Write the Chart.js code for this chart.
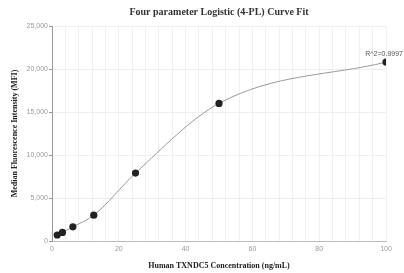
<!DOCTYPE html>
<html>
<head>
<meta charset="utf-8">
<script src="https://cdn.jsdelivr.net/npm/chart.js@4"></script>
<style>
  html, body { margin: 0; padding: 0; background: #fff; }
  #wrap { width: 404px; height: 273px; }
</style>
</head>
<body>
<div id="wrap"><canvas id="myChart" width="404" height="273"></canvas></div>
<script>
// concentration (ng/mL) and MFI
const concentrations = [1.5625, 3.125, 6.25, 12.5, 25, 50, 100];
const mfiValues = [700, 1000, 1650, 3000, 7900, 16000, 20800];
const yTicks = [0, 5000, 10000, 15000, 20000, 25000];
const xLabels = [0, 20, 40, 60, 80, 100];
const rSquaredText = 'R^2=0.9997';

const points = concentrations.map((c, i) => ({ x: c, y: mfiValues[i] }));

// пишем подпись R^2 рядом с последней точкой
const r2Label = {
    id: 'r2Label',
    afterDatasetsDraw(chart) {
        const last = points[points.length - 1];
        const px = chart.scales.x.getPixelForValue(last.x);
        const py = chart.scales.y.getPixelForValue(last.y);
        const ctx = chart.ctx;
        ctx.save();
        ctx.font = '7px "Liberation Sans", Arial, sans-serif';
        ctx.fillStyle = '#555';
        ctx.textAlign = 'right';
        ctx.textBaseline = 'bottom';
        ctx.fillText(rSquaredText, Math.min(px + 19, chart.width - 1), py - 5);
        ctx.restore();
    }
};

const serifBold = { family: '"Liberation Serif", "Times New Roman", serif', weight: 'bold' };

var ctx = document.getElementById('myChart').getContext('2d');
var myChart = new Chart(ctx, {
    type: 'scatter',
    data: {
        datasets: [
            {
                label: 'fit',
                data: points,
                order: 2,
                showLine: true,
                borderColor: '#9a9a9a',
                borderWidth: 1,
                pointRadius: 0,
                cubicInterpolationMode: 'monotone',
                fill: false
            },
            {
                label: 'standards',
                data: points,
                order: 1,
                showLine: false,
                pointRadius: 3.6,
                borderWidth: 0,
                pointBackgroundColor: '#222',
                pointBorderColor: '#222'
            }
        ]
    },
    options: {
        responsive: false,
        animation: false,
        layout: { padding: { left: 10, right: 18, top: 4, bottom: 0 } },
        plugins: {
            legend: { display: false },
            tooltip: { enabled: false },
            title: {
                display: true,
                text: 'Four parameter Logistic (4-PL) Curve Fit',
                fullSize: false,
                color: '#333',
                font: { ...serifBold, size: 10 },
                padding: { top: 2, bottom: 8 }
            }
        },
        scales: {
            x: {
                type: 'linear',
                min: 0,
                max: 100,
                ticks: {
                    stepSize: 4,
                    autoSkip: false,
                    maxRotation: 0,
                    color: '#999',
                    font: { family: '"Liberation Sans", Arial, sans-serif', size: 7 },
                    padding: 4,
                    callback: (v) => xLabels.includes(v) ? String(v) : ''
                },
                grid: { color: '#f0f0f0', drawTicks: false },
                border: { color: '#bbb' },
                title: {
                    display: true,
                    text: 'Human TXNDC5 Concentration (ng/mL)',
                    color: '#222',
                    font: { ...serifBold, size: 8 },
                    padding: { top: 4, bottom: 2 }
                }
            },
            y: {
                min: 0,
                max: 25000,
                afterBuildTicks: (axis) => { axis.ticks = yTicks.map(v => ({ value: v })); },
                ticks: {
                    color: '#999',
                    font: { family: '"Liberation Sans", Arial, sans-serif', size: 7 },
                    padding: 1
                },
                grid: { color: '#eee', tickLength: 3, tickColor: '#999' },
                border: { color: '#999' },
                title: {
                    display: true,
                    text: 'Median Fluorescence Intensity (MFI)',
                    color: '#222',
                    font: { ...serifBold, size: 8 },
                    padding: { top: 0, bottom: 6 }
                }
            }
        }
    },
    plugins: [r2Label]
});
</script>
</body>
</html>
